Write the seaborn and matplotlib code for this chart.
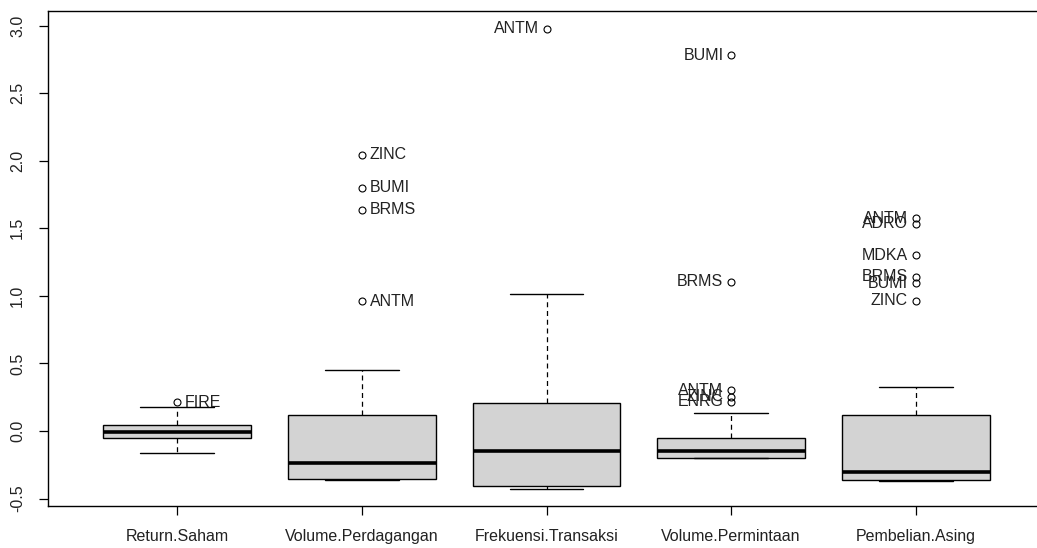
import pandas as pd
import matplotlib
matplotlib.use("Agg")
import matplotlib.pyplot as plt
import seaborn as sns

# Nama variabel (urutan sumbu x)
variabel = ["Return.Saham", "Volume.Perdagangan", "Frekuensi.Transaksi",
            "Volume.Permintaan", "Pembelian.Asing"]

# Nilai per variabel (terstandardisasi)
return_saham = [-0.165, -0.09, -0.054, -0.03, -0.01, 0.02, 0.044, 0.18, 0.212]
volume_perdagangan = [-0.365, -0.363, -0.361, -0.359, -0.357, -0.355,
                      -0.33, -0.30, -0.28, -0.26, -0.237,
                      -0.18, -0.10, -0.03, 0.06, 0.118,
                      0.45, 0.962, 1.636, 1.80, 2.045]
frekuensi_transaksi = [-0.43, -0.42, -0.407, -0.30, -0.148, 0.0, 0.207, 1.014, 2.976]
volume_permintaan = [-0.2, -0.2, -0.2, -0.2, -0.2, -0.2, -0.2,
                     -0.19, -0.18, -0.17, -0.16, -0.155, -0.148,
                     -0.14, -0.12, -0.10, -0.08, -0.065, -0.052,
                     0.133, 0.215, 0.255, 0.30, 1.103, 2.783]
pembelian_asing = [-0.37, -0.369, -0.368, -0.367, -0.366, -0.365, -0.364, -0.363,
                   -0.355, -0.345, -0.335, -0.325, -0.315, -0.31, -0.303,
                   -0.28, -0.23, -0.16, -0.08, 0.0, 0.07, 0.118,
                   0.326, 0.965, 1.095, 1.14, 1.30, 1.535, 1.575]

# Label pencilan: (indeks variabel, nilai, kode saham)
pencilan_idx = [0, 1, 1, 1, 1, 2, 3, 3, 3, 3, 3, 4, 4, 4, 4, 4, 4]
pencilan_nilai = [0.212, 0.962, 1.636, 1.80, 2.045, 2.976,
                  0.215, 0.255, 0.30, 1.103, 2.783,
                  0.965, 1.095, 1.14, 1.30, 1.535, 1.575]
pencilan_kode = ["FIRE", "ANTM", "BRMS", "BUMI", "ZINC", "ANTM",
                 "ENRG", "ZINC", "ANTM", "BRMS", "BUMI",
                 "ZINC", "BUMI", "BRMS", "MDKA", "ADRO", "ANTM"]

y_ticks = [-0.5, 0.0, 0.5, 1.0, 1.5, 2.0, 2.5, 3.0]

# Data long-form
kolom = [return_saham, volume_perdagangan, frekuensi_transaksi,
         volume_permintaan, pembelian_asing]
df = pd.concat([pd.DataFrame({"variabel": v, "nilai": d})
                for v, d in zip(variabel, kolom)], ignore_index=True)

sns.set_style("ticks")
plt.rcParams["font.family"] = ["Liberation Sans", "DejaVu Sans"]

fig = plt.figure(figsize=(10.37, 5.48), dpi=100)
ax = fig.add_axes([48 / 1037, 42 / 548, 997 / 1037, 495.3 / 548])

sns.boxplot(data=df, x="variabel", y="nilai", order=variabel,
            color="#D3D3D3", linecolor="black", linewidth=1.0, width=0.8, whis=1.5,
            flierprops=dict(marker="o", markerfacecolor="none", markeredgecolor="black",
                            markersize=5, markeredgewidth=0.8),
            medianprops=dict(linewidth=2.6, color="black"),
            whiskerprops=dict(linestyle=(0, (4, 3)), linewidth=0.9),
            capprops=dict(linewidth=1.0),
            ax=ax)

# Label kode saham di samping pencilan (kiri untuk 2 variabel pertama: kanan)
for i, v, kode in zip(pencilan_idx, pencilan_nilai, pencilan_kode):
    if i <= 1:
        ax.annotate(kode, (i, v), xytext=(5.5, 0), textcoords="offset points",
                    ha="left", va="center", fontsize=11.5, color="#222222")
    else:
        ax.annotate(kode, (i, v), xytext=(-5.5, 0), textcoords="offset points",
                    ha="right", va="center", fontsize=11.5, color="#222222")

ax.set_xlim(-0.7, 4.7)
ax.set_ylim(-0.555, 3.111)
ax.set_yticks(y_ticks)
ax.set_yticklabels([f"{t:.1f}" for t in y_ticks], rotation=90, va="center")
ax.set_xlabel("")
ax.set_ylabel("")
ax.tick_params(axis="both", direction="out", length=6.5, width=0.9,
               labelsize=11.5, labelcolor="#222222", color="black")
ax.tick_params(axis="y", pad=10)
ax.tick_params(axis="x", pad=10)
for sp in ax.spines.values():
    sp.set_visible(True)
    sp.set_color("black")
    sp.set_linewidth(1.0)

fig.savefig("out.png", dpi=100)
